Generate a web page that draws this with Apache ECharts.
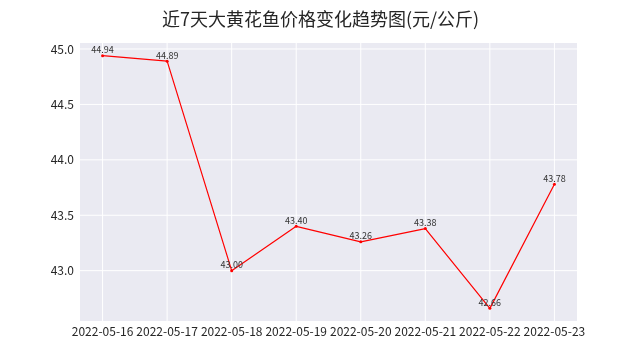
<!DOCTYPE html>
<html>
<head>
<meta charset="utf-8">
<script src="https://cdn.jsdelivr.net/npm/echarts@6/dist/echarts.min.js"></script>
<style>
html,body{margin:0;padding:0;background:#fff;}
#c{width:641px;height:361px;}
</style>
</head>
<body>
<div id="c"></div>
<script>
const titleText = '近7天大黄花鱼价格变化趋势图(元/公斤)';
const dates = ['2022-05-16','2022-05-17','2022-05-18','2022-05-19','2022-05-20','2022-05-21','2022-05-22','2022-05-23'];
const prices = [44.94, 44.89, 43.00, 43.40, 43.26, 43.38, 42.66, 43.78];
const yTicks = [43.0, 43.5, 44.0, 44.5, 45.0];

const FONT = '"Noto Sans CJK SC", "DejaVu Sans", sans-serif';
const TXT = '#262626';
const xIdx = dates.map((d, i) => i);
const X_MIN = -0.35, X_MAX = 7.35, Y_MIN = 42.546, Y_MAX = 45.054;

function gridSeries(points) {
  return {
    type: 'line', z: 1, silent: true, symbol: 'none',
    lineStyle: {color: '#ffffff', width: 1},
    emphasis: {disabled: true},
    data: points
  };
}
const gridLines = yTicks.map(v => gridSeries([[X_MIN, v], [X_MAX, v]]))
  .concat(xIdx.map(i => gridSeries([[i, Y_MIN], [i, Y_MAX]])));

const chart = echarts.init(document.getElementById('c'), null, {renderer: 'canvas'});
chart.setOption({
  animation: false,
  backgroundColor: '#ffffff',
  title: {
    text: titleText,
    left: 'center',
    top: 5,
    textStyle: {fontFamily: FONT, fontSize: 18, fontWeight: 'normal', color: TXT}
  },
  grid: {
    left: 80, right: 64, top: 43, bottom: 40,
    show: true, backgroundColor: '#EAEAF2', borderWidth: 0
  },
  xAxis: {
    type: 'value',
    min: X_MIN, max: X_MAX,
    axisLine: {show: false},
    axisTick: {show: false},
    splitLine: {show: false},
    axisLabel: {
      customValues: xIdx,
      formatter: v => dates[Math.round(v)],
      fontFamily: FONT, fontSize: 12, color: TXT, margin: 4
    }
  },
  yAxis: {
    type: 'value',
    min: Y_MIN, max: Y_MAX,
    axisLine: {show: false},
    axisTick: {show: false},
    splitLine: {show: false},
    axisLabel: {
      customValues: yTicks,
      formatter: v => v.toFixed(1),
      fontFamily: FONT, fontSize: 12, color: TXT, margin: 6
    }
  },
  series: gridLines.concat([
    {
      type: 'line',
      z: 3,
      data: prices.map((p, i) => [i, p]),
      symbol: 'circle',
      symbolSize: 3,
      lineStyle: {color: '#ff0000', width: 1.2},
      itemStyle: {color: '#ff0000'},
      label: {
        show: true,
        position: 'top',
        distance: 0,
        formatter: p => p.value[1].toFixed(2),
        fontFamily: FONT, fontSize: 9, color: '#333333'
      }
    }
  ])
});
</script>
</body>
</html>
